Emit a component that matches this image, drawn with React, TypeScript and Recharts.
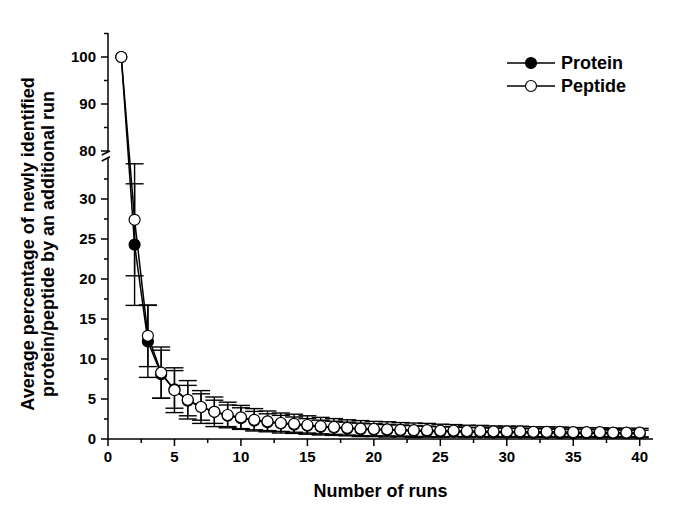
import React from "react";
import { LineChart, Line, XAxis, YAxis, ErrorBar, ReferenceLine, ReferenceArea } from "recharts";

const runs = [
  1, 2, 3, 4, 5, 6, 7, 8, 9, 10, 11, 12, 13, 14, 15, 16, 17, 18, 19, 20,
  21, 22, 23, 24, 25, 26, 27, 28, 29, 30, 31, 32, 33, 34, 35, 36, 37, 38, 39, 40,
];

const proteinMean = [
  100, 24.3, 12.2, 8.1, 6.2, 4.8, 4.0, 3.4, 2.9, 2.6, 2.3, 2.1, 1.95, 1.8, 1.65, 1.5, 1.4, 1.3, 1.2, 1.15,
  1.1, 1.05, 1.0, 0.95, 0.9, 0.9, 0.85, 0.85, 0.8, 0.8, 0.78, 0.75, 0.75, 0.72, 0.7, 0.7, 0.68, 0.66, 0.65, 0.64,
];
const proteinErr = [
  0, 7.6, 4.5, 3.0, 2.35, 1.9, 1.65, 1.45, 1.35, 1.3, 1.15, 1.05, 1.0, 0.95, 0.9, 0.85, 0.82, 0.8, 0.78, 0.75,
  0.72, 0.7, 0.68, 0.66, 0.64, 0.62, 0.6, 0.58, 0.57, 0.56, 0.55, 0.54, 0.53, 0.52, 0.5, 0.5, 0.49, 0.48, 0.47, 0.46,
];

const peptideMean = [
  100, 27.4, 12.9, 8.3, 6.1, 4.9, 4.0, 3.4, 3.0, 2.7, 2.4, 2.2, 2.0, 1.9, 1.75, 1.6, 1.5, 1.4, 1.3, 1.25,
  1.2, 1.15, 1.1, 1.1, 1.05, 1.05, 1.0, 1.0, 0.95, 0.95, 0.95, 0.9, 0.9, 0.9, 0.85, 0.85, 0.85, 0.8, 0.8, 0.8,
];
const peptideErr = [
  0, 7.0, 3.85, 3.2, 2.8, 2.4, 2.05, 1.85, 1.6, 1.5, 1.4, 1.3, 1.25, 1.2, 1.15, 1.1, 1.05, 1.0, 1.0, 0.95,
  0.95, 0.9, 0.9, 0.85, 0.8, 0.75, 0.72, 0.7, 0.68, 0.66, 0.65, 0.63, 0.62, 0.6, 0.58, 0.57, 0.56, 0.55, 0.54, 0.53,
];

const xTicks = [0, 2.5, 5, 7.5, 10, 12.5, 15, 17.5, 20, 22.5, 25, 27.5, 30, 32.5, 35, 37.5, 40];
const xMajor = [0, 5, 10, 15, 20, 25, 30, 35, 40];
const yTicksReal = [0, 2.5, 5, 7.5, 10, 12.5, 15, 17.5, 20, 22.5, 25, 27.5, 30, 32.5, 80, 85, 90, 95, 100, 105];
const yMajor = [0, 5, 10, 15, 20, 25, 30, 80, 90, 100];

// broken y axis: 0-35 kept as is, 80-105 squeezed above the break
const LOW_TOP = 35;
const UPPER_BASE = 36;
const UPPER_SCALE = 0.5875;
const toPlot = (v: number) => (v <= LOW_TOP ? v : UPPER_BASE + (v - 80) * UPPER_SCALE);

const chartData = runs.map((r, i) => ({
  run: r,
  protein: toPlot(proteinMean[i]),
  proteinErr: proteinErr[i],
  peptide: toPlot(peptideMean[i]),
  peptideErr: peptideErr[i],
}));

const yTicks = yTicksReal.map(toPlot);

const FONT = "'Liberation Sans', Arial, sans-serif";
const TICK = 7;
const TICK_MINOR = 4;
const GAP = 5;

function XTick(props: any) {
  const { x, y, payload } = props;
  const axisY = y - TICK - GAP;
  const major = xMajor.includes(payload.value);
  return (
    <g>
      <line x1={x} x2={x} y1={axisY} y2={axisY + (major ? TICK : TICK_MINOR)} stroke="#000" strokeWidth={1.5} />
      {major && (
        <text x={x} y={axisY + TICK + GAP} dy="0.71em" textAnchor="middle" fontFamily={FONT} fontWeight="bold" fontSize={15} fill="#000">
          {payload.value}
        </text>
      )}
    </g>
  );
}

function YTick(props: any) {
  const { x, y, payload } = props;
  const axisX = x + TICK + GAP;
  const idx = yTicks.findIndex((t) => Math.abs(t - payload.value) < 1e-6);
  const real = yTicksReal[idx];
  const major = yMajor.includes(real);
  return (
    <g>
      <line x1={axisX - (major ? TICK : TICK_MINOR)} x2={axisX} y1={y} y2={y} stroke="#000" strokeWidth={1.5} />
      {major && (
        <text x={axisX - TICK - GAP} y={y} dy="0.355em" textAnchor="end" fontFamily={FONT} fontWeight="bold" fontSize={15} fill="#000">
          {real}
        </text>
      )}
    </g>
  );
}

function YLabel(props: any) {
  const cy = 244;
  return (
    <g fontFamily={FONT} fontWeight="bold" fontSize={18} fill="#000">
      <text x={28} y={cy} transform={`rotate(-90 28 ${cy})`} textAnchor="middle" dominantBaseline="central">
        Average percentage of newly identified
      </text>
      <text x={48} y={cy} transform={`rotate(-90 48 ${cy})`} textAnchor="middle" dominantBaseline="central">
        protein/peptide by an additional run
      </text>
    </g>
  );
}

function XLabel(props: any) {
  const { viewBox } = props;
  return (
    <text x={viewBox.x + viewBox.width / 2} y={497} textAnchor="middle" fontFamily={FONT} fontWeight="bold" fontSize={18} fill="#000">
      Number of runs
    </text>
  );
}

function LegendRow({ filled, label, top }: { filled: boolean; label: string; top: number }) {
  return (
    <div style={{ position: "absolute", left: 505, top, height: 24, display: "flex", alignItems: "center" }}>
      <svg width={52} height={24}>
        <line x1={2} x2={50} y1={12} y2={12} stroke="#000" strokeWidth={1.5} />
        <circle cx={26} cy={12} r={5.5} fill={filled ? "#000" : "#fff"} stroke="#000" strokeWidth={1.2} />
      </svg>
      <span style={{ fontFamily: FONT, fontWeight: "bold", fontSize: 18, marginLeft: 4, color: "#000" }}>{label}</span>
    </div>
  );
}

export default function App() {
  return (
    <div style={{ position: "absolute", left: 0, top: 0, width: 685, height: 524, background: "#fff" }}>
      <LineChart width={685} height={524} data={chartData} margin={{ top: 33, right: 32, bottom: 55, left: 8 }}>
        <XAxis
          dataKey="run"
          type="number"
          domain={[0, 41]}
          ticks={xTicks}
          interval={0}
          tickSize={TICK}
          tickMargin={GAP}
          tickLine={false}
          tick={<XTick />}
          axisLine={{ stroke: "#000", strokeWidth: 1.5 }}
          height={30}
          label={<XLabel />}
        />
        <YAxis
          type="number"
          domain={[0, 50.75]}
          ticks={yTicks}
          interval={0}
          allowDataOverflow
          tickSize={TICK}
          tickMargin={GAP}
          tickLine={false}
          tick={<YTick />}
          axisLine={false}
          width={100}
          label={<YLabel />}
        />
        <Line
          dataKey="protein"
          stroke="#000"
          strokeWidth={1.5}
          dot={{ r: 5.5, fill: "#000", stroke: "#000", strokeWidth: 1.2 }}
          isAnimationActive={false}
        >
          <ErrorBar dataKey="proteinErr" width={9} stroke="#000" strokeWidth={1.4} isAnimationActive={false} />
        </Line>
        <Line
          dataKey="peptide"
          stroke="#000"
          strokeWidth={1.5}
          dot={{ r: 5.5, fill: "#fff", stroke: "#000", strokeWidth: 1.2 }}
          isAnimationActive={false}
        >
          <ErrorBar dataKey="peptideErr" width={9} stroke="#000" strokeWidth={1.4} isAnimationActive={false} />
        </Line>
        <ReferenceArea x1={0.4} x2={41} y1={35.3} y2={35.9} fill="#fff" fillOpacity={1} stroke="none" ifOverflow="visible" />
        <ReferenceLine segment={[{ x: 0, y: 0 }, { x: 0, y: 35.2 }]} stroke="#000" strokeWidth={1.5} ifOverflow="visible" />
        <ReferenceLine segment={[{ x: 0, y: 35.95 }, { x: 0, y: 50.75 }]} stroke="#000" strokeWidth={1.5} ifOverflow="visible" />
        <ReferenceLine segment={[{ x: -0.47, y: 35.5 }, { x: 0.15, y: 36.0 }]} stroke="#000" strokeWidth={1.5} ifOverflow="visible" />
        <ReferenceLine segment={[{ x: -0.47, y: 34.75 }, { x: 0.15, y: 35.28 }]} stroke="#000" strokeWidth={1.5} ifOverflow="visible" />
      </LineChart>
      <LegendRow filled label="Protein" top={51} />
      <LegendRow filled={false} label="Peptide" top={74} />
    </div>
  );
}
